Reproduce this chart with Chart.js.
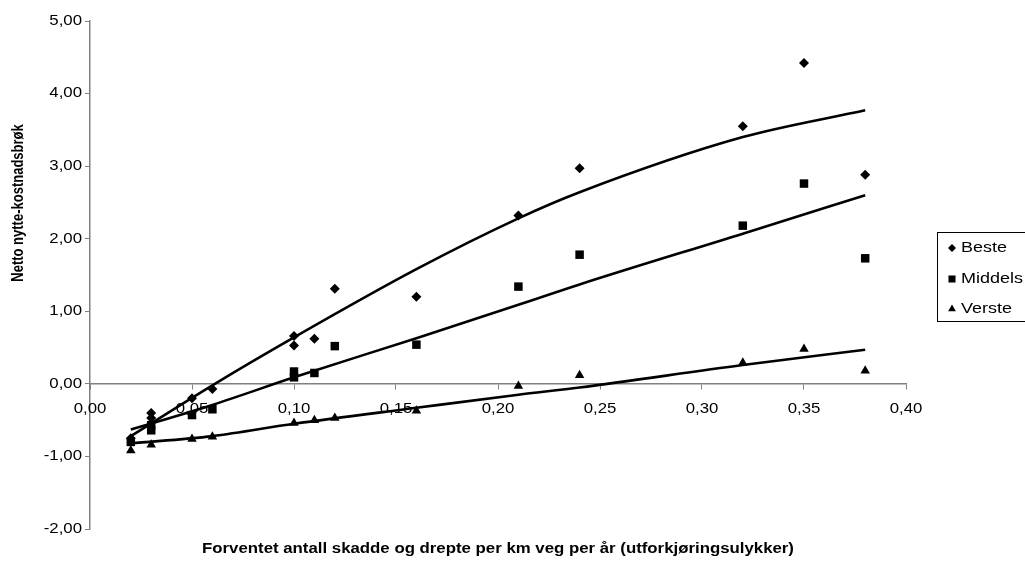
<!DOCTYPE html>
<html lang="no">
<head>
    <meta charset="UTF-8">
    <title>Netto nytte-kostnadsbrøk</title>
    <script src="https://cdn.jsdelivr.net/npm/chart.js"></script>
    <style>
        html, body {
            margin: 0;
            padding: 0;
            background: #ffffff;
            overflow: hidden;
        }
        #wrap {
            width: 1025px;
            height: 564px;
        }
    </style>
</head>
<body>
    <div id="wrap">
        <canvas id="chart" width="1025" height="564"></canvas>
    </div>
    <script>
        // observed points (x = accidents per km per year)
        const xBeste = [0.02, 0.03, 0.03, 0.05, 0.06, 0.10, 0.10, 0.11, 0.12, 0.16, 0.21, 0.24, 0.32, 0.35, 0.38];
        const beste = [-0.75, -0.40, -0.47, -0.20, -0.07, 0.66, 0.53, 0.62, 1.31, 1.20, 2.32, 2.97, 3.55, 4.42, 2.88];

        const xMiddels = [0.02, 0.03, 0.03, 0.05, 0.06, 0.10, 0.10, 0.11, 0.12, 0.16, 0.21, 0.24, 0.32, 0.35, 0.38];
        const middels = [-0.80, -0.57, -0.64, -0.43, -0.35, 0.17, 0.09, 0.15, 0.52, 0.54, 1.34, 1.78, 2.18, 2.76, 1.73];

        const xVerste = [0.02, 0.03, 0.05, 0.06, 0.10, 0.11, 0.12, 0.16, 0.21, 0.24, 0.32, 0.35, 0.38];
        const verste = [-0.92, -0.84, -0.76, -0.73, -0.54, -0.50, -0.47, -0.37, -0.03, 0.12, 0.29, 0.48, 0.18];

        // trend lines
        const xTrend = [0.02, 0.06, 0.10, 0.16, 0.21, 0.24, 0.32, 0.38];
        const trendBeste = [-0.72, -0.02, 0.64, 1.58, 2.28, 2.64, 3.40, 3.77];
        const trendMiddels = [-0.63, -0.29, 0.09, 0.63, 1.09, 1.37, 2.07, 2.60];
        const trendVerste = [-0.82, -0.72, -0.55, -0.33, -0.15, -0.05, 0.26, 0.47];

        const seriesNames = ["Beste", "Middels", "Verste"];
        const yTicks = [-2, -1, 0, 1, 2, 3, 4, 5];
        const xTitle = "Forventet antall skadde og drepte per km veg per år (utforkjøringsulykker)";
        const yTitle = "Netto nytte-kostnadsbrøk";

        const toPts = (xs, ys) => xs.map((x, i) => ({ x: x, y: ys[i] }));
        const comma = (v) => v.toFixed(2).replace(".", ",");

        const FONT = "'Liberation Sans', Arial, sans-serif";
        const STRETCH = 1.2; // the original chart text is a bit wide

        const markers = ["rectRot", "rect", "triangle"];
        const markerSize = [5, 6, 5.5];

        const pointSet = (label, xs, ys, i) => ({
            label: label,
            data: toPts(xs, ys),
            showLine: false,
            pointStyle: markers[i],
            pointRadius: markerSize[i],
            pointBackgroundColor: "#000",
            pointBorderColor: "#000",
            pointBorderWidth: 0,
            order: 1
        });

        const trendSet = (xs, ys) => ({
            label: "trend",
            data: toPts(xs, ys),
            showLine: true,
            borderColor: "#000",
            borderWidth: 2.6,
            pointRadius: 0,
            cubicInterpolationMode: "monotone",
            order: 0
        });

        const wideText = (ctx, text, x, y, sx, sy) => {
            ctx.save();
            ctx.translate(x, y);
            ctx.scale(sx, sy);
            ctx.fillText(text, 0, 0);
            ctx.restore();
        };

        // tick labels, titles and boxed legend drawn by hand
        const extras = {
            id: "extras",
            afterDraw(chart) {
                const ctx = chart.ctx;
                const area = chart.chartArea;
                const xs = chart.scales.x;
                const ys = chart.scales.y;
                ctx.save();
                ctx.fillStyle = "#000";

                ctx.font = "14px " + FONT;
                ctx.textBaseline = "middle";
                ctx.textAlign = "center";
                xs.ticks.forEach((t) => {
                    wideText(ctx, comma(t.value), xs.getPixelForValue(t.value), ys.getPixelForValue(0) + 25, STRETCH, 1);
                });
                ctx.textAlign = "right";
                ys.ticks.forEach((t) => {
                    wideText(ctx, comma(t.value), 82, ys.getPixelForValue(t.value), STRETCH, 1);
                });

                ctx.font = "bold 14px " + FONT;
                ctx.textAlign = "center";
                wideText(ctx, xTitle, (area.left + area.right) / 2, 549, STRETCH, 1);

                ctx.font = "bold 13px " + FONT;
                ctx.save();
                ctx.translate(19, 203);
                ctx.rotate(-Math.PI / 2);
                wideText(ctx, yTitle, 0, 0, 1, STRETCH);
                ctx.restore();

                ctx.strokeStyle = "#000";
                ctx.lineWidth = 1;
                ctx.strokeRect(937.5, 232.5, 100, 89);
                ctx.font = "15px " + FONT;
                ctx.textAlign = "left";
                const rows = [248, 279, 309];
                seriesNames.forEach((name, i) => {
                    const opts = { pointStyle: markers[i], radius: [4, 5, 4.5][i], borderWidth: 0 };
                    Chart.helpers.drawPoint(ctx, opts, 952, rows[i]);
                    wideText(ctx, name, 961, rows[i], STRETCH, 1);
                });
                ctx.restore();
            }
        };

        new Chart(document.getElementById("chart"), {
            type: "scatter",
            data: {
                datasets: [
                    pointSet(seriesNames[0], xBeste, beste, 0),
                    pointSet(seriesNames[1], xMiddels, middels, 1),
                    pointSet(seriesNames[2], xVerste, verste, 2),
                    trendSet(xTrend, trendBeste),
                    trendSet(xTrend, trendMiddels),
                    trendSet(xTrend, trendVerste)
                ]
            },
            options: {
                responsive: false,
                devicePixelRatio: 1,
                animation: false,
                layout: { padding: { left: 0, top: 21, right: 119, bottom: 35 } },
                plugins: {
                    legend: { display: false },
                    tooltip: { enabled: false }
                },
                scales: {
                    x: {
                        type: "linear",
                        position: { y: 0 },
                        min: 0,
                        max: 0.4,
                        grid: {
                            drawOnChartArea: false,
                            tickLength: 5,
                            color: "#808080"
                        },
                        border: { color: "#808080", width: 1.5 },
                        ticks: { stepSize: 0.05, display: false }
                    },
                    y: {
                        min: yTicks[0],
                        max: yTicks[yTicks.length - 1],
                        afterFit: (scale) => { scale.width = 90; },
                        grid: {
                            drawOnChartArea: false,
                            tickLength: 5,
                            color: "#808080"
                        },
                        border: { color: "#808080", width: 1.5 },
                        ticks: { stepSize: 1, display: false }
                    }
                }
            },
            plugins: [extras]
        });
    </script>
</body>
</html>
